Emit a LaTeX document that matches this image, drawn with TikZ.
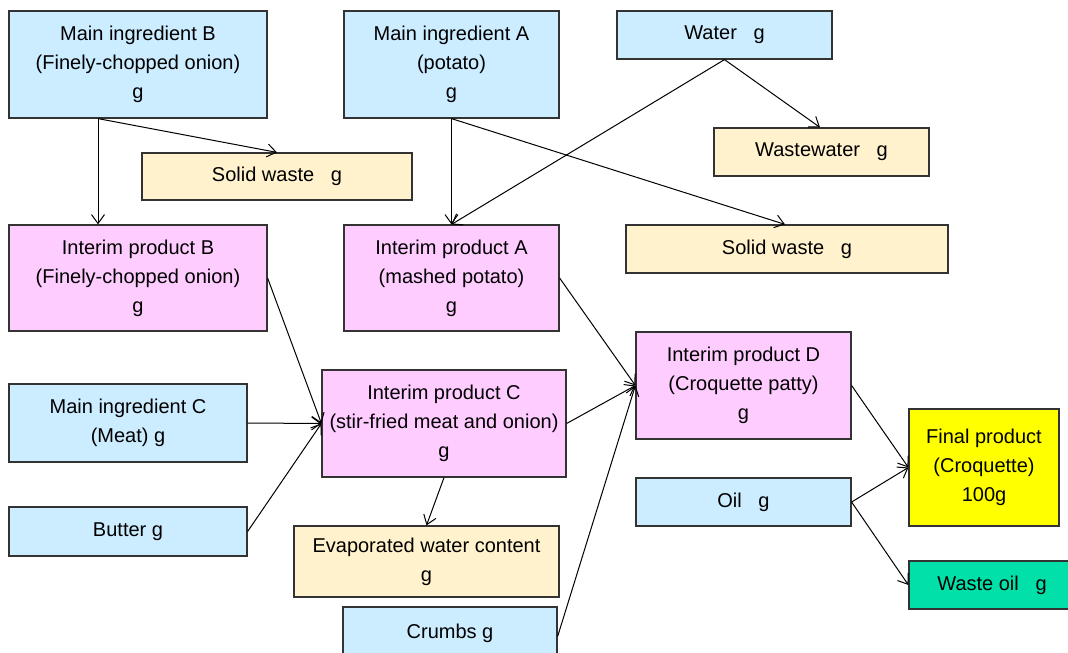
\documentclass[tikz,border=0pt]{standalone}
\usepackage{fontspec}
\setmainfont{Liberation Sans}
\usetikzlibrary{arrows.meta}
\definecolor{inblue}{HTML}{CCECFF}
\definecolor{midpink}{HTML}{FFCCFF}
\definecolor{wastetan}{HTML}{FFF2CC}
\definecolor{finalyel}{HTML}{FFFF00}
\definecolor{oilgreen}{HTML}{00E0A8}
\tikzset{
  box/.style={draw=black!80, line width=1.2pt, rectangle, inner sep=0pt,
    align=center, font=\fontsize{20}{29}\selectfont},
  inbox/.style={box, fill=inblue},
  midbox/.style={box, fill=midpink},
  wastebox/.style={box, fill=wastetan},
  finalbox/.style={box, fill=finalyel},
  oilbox/.style={box, fill=oilgreen},
  flow/.style={line width=1pt, -{Straight Barb[length=9pt,width=13pt]}},
}
\begin{document}
\begin{tikzpicture}[x=1pt,y=-1pt]
\useasboundingbox (0,0) rectangle (1068,653);

% raw ingredients
\node[inbox, minimum width=258pt, minimum height=107pt] (mainB) at (138,64.5)
  {Main ingredient B\\(Finely-chopped onion)\\g};
\node[inbox, minimum width=215pt, minimum height=107pt] (mainA) at (451.5,64.5)
  {Main ingredient A\\(potato)\\g};
\node[inbox, minimum width=215pt, minimum height=48pt] (water) at (724.5,35)
  {Water~~~g};
\node[inbox, minimum width=238pt, minimum height=78pt] (mainC) at (128,423)
  {Main ingredient C\\(Meat) g};
\node[inbox, minimum width=238pt, minimum height=49pt] (butter) at (128,531.5)
  {Butter g};
\node[inbox, minimum width=214pt, minimum height=53pt] (crumbs) at (450,633.5)
  {Crumbs g};
\node[inbox, minimum width=215pt, minimum height=48pt] (oil) at (743.5,502)
  {Oil~~~g};

% waste streams
\node[wastebox, minimum width=270pt, minimum height=47pt] (solidL) at (277,176.5)
  {Solid waste~~~g};
\node[wastebox, minimum width=215pt, minimum height=48pt] (wastewater) at (821.5,152)
  {Wastewater~~~g};
\node[wastebox, minimum width=322pt, minimum height=48pt] (solidR) at (787,249)
  {Solid waste~~~g};
\node[wastebox, minimum width=265pt, minimum height=71pt] (evap) at (426.5,561.5)
  {Evaporated water content\\g};
\node[oilbox, minimum width=166pt, minimum height=48pt] (wasteoil) at (992,585)
  {Waste oil~~~g};

% interim products
\node[midbox, minimum width=258pt, minimum height=106pt] (interB) at (138,278)
  {Interim product B\\(Finely-chopped onion)\\g};
\node[midbox, minimum width=215pt, minimum height=106pt] (interA) at (451.5,278)
  {Interim product A\\(mashed potato)\\g};
\node[midbox, minimum width=244pt, minimum height=107pt] (interC) at (444,423.5)
  {Interim product C\\(stir-fried meat and onion)\\g};
\node[midbox, minimum width=215pt, minimum height=107pt] (interD) at (743.5,385.5)
  {Interim product D\\(Croquette patty)\\g};

% final product
\node[finalbox, minimum width=150pt, minimum height=117pt] (final) at (984,467.5)
  {Final product\\(Croquette)\\100g};

% flows
\draw[flow] ([xshift=-40pt]mainB.south) -- ([xshift=-40pt]interB.north);
\draw[flow] ([xshift=-40pt]mainB.south) -- (solidL.north);
\draw[flow] (mainA.south) -- (interA.north);
\draw[flow] (mainA.south) -- ([xshift=-2pt]solidR.north);
\draw[flow] (water.south) -- ([xshift=-1.5pt]wastewater.north);
\draw[flow] (water.south) -- (interA.north);
\draw[flow] (interB.east) -- (interC.west);
\draw[flow] (mainC.east) -- (interC.west);
\draw[flow] (butter.east) -- (interC.west);
\draw[flow] (interC.south) -- (evap.north);
\draw[flow] (interA.east) -- (interD.west);
\draw[flow] (interC.east) -- (interD.west);
\draw[flow] ([yshift=-3pt]crumbs.east) -- (interD.west);
\draw[flow] (interD.east) -- (final.west);
\draw[flow] (oil.east) -- (final.west);
\draw[flow] (oil.east) -- (wasteoil.west);
\end{tikzpicture}
\end{document}
